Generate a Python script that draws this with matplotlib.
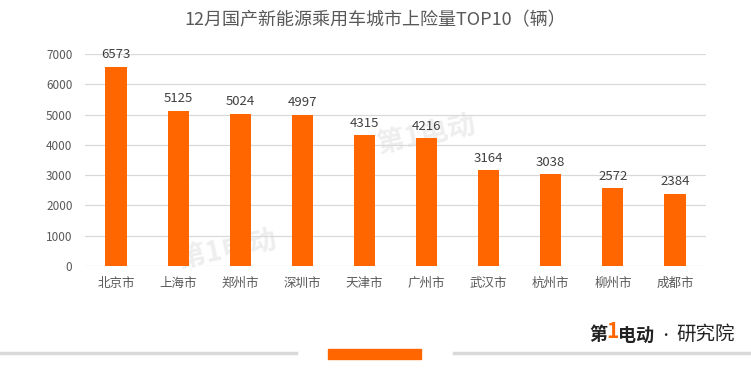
import matplotlib.pyplot as plt
from matplotlib.patches import Rectangle
from matplotlib.lines import Line2D

plt.rcParams['font.family'] = ['Noto Sans CJK SC', 'DejaVu Sans']

cities = ['北京市', '上海市', '郑州市', '深圳市', '天津市',
          '广州市', '武汉市', '杭州市', '柳州市', '成都市']
volumes = [6573, 5125, 5024, 4997, 4315, 4216, 3164, 3038, 2572, 2384]
yticks = [0, 1000, 2000, 3000, 4000, 5000, 6000, 7000]

orange = '#FF6600'
grey_txt = '#595959'

fig = plt.figure(figsize=(7.51, 3.81), dpi=100)
ax = fig.add_axes([85/751, 1-266/381, 621/751, 212/381])

x = range(len(cities))
ax.bar(x, volumes, width=0.34, color=orange, zorder=3)
for xi, v in zip(x, volumes):
    ax.text(xi, v + 180, str(v), ha='center', va='bottom',
            fontsize=9.5, color='#404040', zorder=4)

ax.set_xlim(-0.5, len(cities) - 0.5)
ax.set_ylim(0, 7000)
ax.set_yticks(yticks)
ax.set_yticklabels([str(t) for t in yticks], fontsize=8.5, color=grey_txt)
ax.set_xticks(list(x))
ax.set_xticklabels(cities, fontsize=9, color=grey_txt)
ax.tick_params(axis='both', length=0)
ax.tick_params(axis='x', pad=8)
ax.tick_params(axis='y', pad=9)
ax.grid(axis='y', color='#D9D9D9', linewidth=0.9, zorder=0)
for s in ax.spines.values():
    s.set_visible(False)

fig.text(0.5, 1-20/381, '12月国产新能源乘用车城市上险量TOP10（辆）',
         ha='center', va='center', fontsize=13, color=grey_txt)

# faint watermarks (sit behind the bars)
ax.text(5.0, 4300, '第1电动', fontsize=20, color='#EEEEEE', rotation=12,
        ha='center', va='center', style='italic', weight='bold', zorder=1)
ax.text(1.8, 500, '第1电动', fontsize=20, color='#EEEEEE', rotation=12,
        ha='center', va='center', style='italic', weight='bold', zorder=1)

# bottom decoration
fig.add_artist(Line2D([0, 296/751], [1-353/381]*2, color='#D9D9D9', lw=2.5))
fig.add_artist(Line2D([454/751, 1], [1-353/381]*2, color='#D9D9D9', lw=2.5))
fig.add_artist(Rectangle((328/751, 1-359/381), 93/751, 10/381,
                         color=orange, transform=fig.transFigure))

# logo
fig.text(598/751, 1-335/381, '第', fontsize=13, weight='bold', style='italic',
         color='#222222', ha='center', va='center')
fig.text(612/751, 1-332/381, '1', fontsize=15, weight='bold', style='italic',
         color=orange, ha='center', va='center')
fig.text(636/751, 1-335/381, '电动', fontsize=13, weight='bold', style='italic',
         color='#222222', ha='center', va='center')
fig.text(665/751, 1-335/381, '•', fontsize=9, color='#222222',
         ha='center', va='center')
fig.text(706/751, 1-334/381, '研究院', fontsize=14, color='#222222',
         ha='center', va='center')

fig.savefig('out.png', dpi=100)
